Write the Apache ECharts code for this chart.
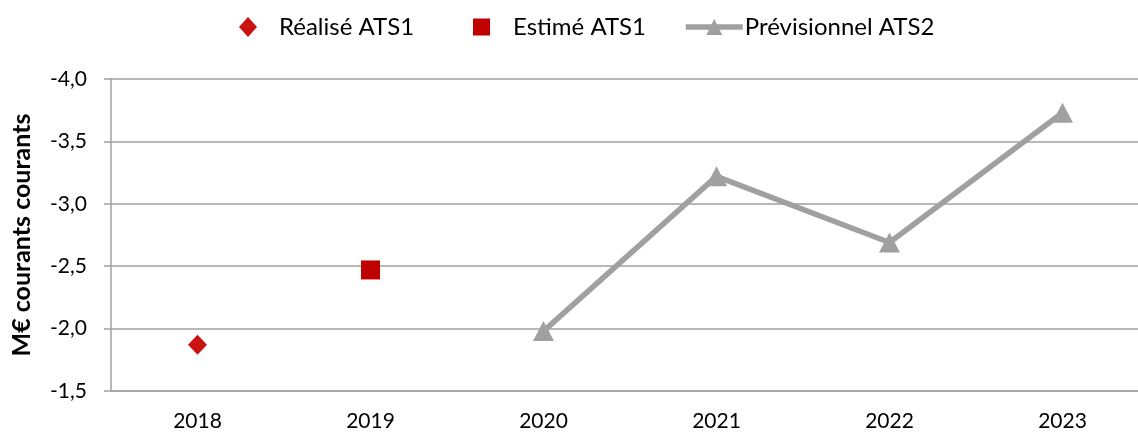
<!DOCTYPE html>
<html>
<head>
<meta charset="utf-8">
<script src="https://cdn.jsdelivr.net/npm/echarts@6/dist/echarts.min.js"></script>
<style>html,body{margin:0;padding:0;background:#fff}#c{width:1138px;height:437px}</style>
</head>
<body>
<div id="c"></div>
<script>
var categories = ['2018', '2019', '2020', '2021', '2022', '2023'];
var realise = [-1.87, null, null, null, null, null];
var estime = [null, -2.47, null, null, null, null];
var previsionnel = [null, null, -1.98, -3.22, -2.69, -3.73];
var yTicks = { min: -4.0, max: -1.5, step: 0.5 };
var names = ['Réalisé ATS1', 'Estimé ATS1', 'Prévisionnel ATS2'];
var yName = 'M€ courants courants';

var FONT = 'Lato';
var chart = echarts.init(document.getElementById('c'), null, { renderer: 'canvas' });
var legendText = { fontFamily: FONT, fontSize: 24, color: '#000' };
chart.setOption({
  animation: false,
  backgroundColor: '#fff',
  legend: [
    { data: [{ name: names[0], icon: 'diamond' }], left: 239, top: 15, padding: 0, itemWidth: 18, itemHeight: 20,
      textStyle: Object.assign({ padding: [0, 0, 0, 17] }, legendText) },
    { data: [{ name: names[1], icon: 'rect' }], left: 473, top: 15, padding: 0, itemWidth: 17, itemHeight: 17,
      textStyle: Object.assign({ padding: [0, 0, 0, 18] }, legendText) },
    { data: [{ name: names[2] }], left: 683, top: 15, padding: 0, itemWidth: 57, itemHeight: 20,
      lineStyle: { width: 5.5 },
      textStyle: Object.assign({ padding: [0, 0, 0, -3] }, legendText) }
  ],
  grid: { left: 111, width: 1038, top: 79, bottom: 46, containLabel: false, outerBoundsMode: 'none' },
  xAxis: {
    type: 'category',
    data: categories,
    boundaryGap: true,
    axisLine: { lineStyle: { color: '#A0A0A0', width: 1.5 } },
    axisTick: { inside: true, length: 8, lineStyle: { color: '#A0A0A0', width: 1.5 } },
    axisLabel: { fontFamily: FONT, fontSize: 21, color: '#000', margin: 20 }
  },
  yAxis: {
    type: 'value',
    inverse: true,
    min: yTicks.min, max: yTicks.max, interval: yTicks.step,
    name: yName,
    nameLocation: 'middle',
    nameGap: 77,
    nameTextStyle: { fontFamily: FONT, fontSize: 25, fontWeight: 'bold', color: '#000' },
    axisLine: { show: true, lineStyle: { color: '#A0A0A0', width: 1.5 } },
    axisTick: { show: true, length: 7, lineStyle: { color: '#A0A0A0', width: 1.5 } },
    splitLine: { show: true, lineStyle: { color: '#A0A0A0', width: 1.5 } },
    axisLabel: { fontFamily: FONT, fontSize: 21, color: '#000', margin: 24,
      formatter: function (v) { return v.toFixed(1).replace('.', ','); } }
  },
  series: [
    { name: names[0], type: 'scatter', data: realise, symbol: 'diamond', symbolSize: [19, 20],
      itemStyle: { color: '#CC1111', opacity: 1 } },
    { name: names[1], type: 'scatter', data: estime, symbol: 'rect', symbolSize: 19,
      itemStyle: { color: '#C00000', opacity: 1 } },
    { name: names[2], type: 'line', data: previsionnel, symbol: 'triangle', symbolSize: [21, 20],
      showSymbol: true, connectNulls: false,
      lineStyle: { color: '#A0A0A0', width: 5.5 }, itemStyle: { color: '#A0A0A0' } }
  ]
});
</script>
</body>
</html>
